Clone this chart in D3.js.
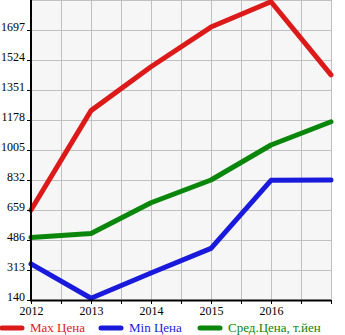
<!DOCTYPE html>
<html>
<head>
<meta charset="utf-8">
<script src="https://cdn.jsdelivr.net/npm/d3@7"></script>
<style>
  html, body { margin: 0; padding: 0; background: #fff; }
  svg { display: block; }
  text { font-family: "Liberation Serif", "Times New Roman", serif; }
</style>
</head>
<body>
<svg id="chart" width="345" height="335"></svg>
<script>
// Price history by year (thousand yen)
const years = [2012, 2013, 2014, 2015, 2016, 2017];
const maxPrice = [659, 1232, 1485, 1714, 1860, 1438];
const minPrice = [348, 150, 296, 438, 830, 832];
const avgPrice = [501, 524, 701, 832, 1034, 1168];
const yTicks = [140, 313, 486, 659, 832, 1005, 1178, 1351, 1524, 1697];
const xLabels = [2012, 2013, 2014, 2015, 2016];
const seriesNames = ["Max Цена", "Min Цена", "Сред.Цена, т.йен"];
const seriesColors = ["#dd1a1a", "#1a1add", "#0a860a"];

const svg = d3.select("#chart");
const plotLeft = 31, plotRight = 331, plotTop = 0, plotBottom = 300;

const x = d3.scaleLinear().domain([2012, 2017]).range([plotLeft, plotRight]);
const y = d3.scaleLinear().domain([140, 1870]).range([plotBottom, plotTop]);

// plot background
svg.append("rect")
  .attr("x", plotLeft).attr("y", plotTop)
  .attr("width", plotRight - plotLeft).attr("height", plotBottom - plotTop)
  .attr("fill", "#f6f6f6");

// grid
const halfYears = d3.range(2012, 2017.01, 0.5);
svg.append("g").selectAll("line").data(halfYears).join("line")
  .attr("x1", d => Math.round(x(d)) + 0.5).attr("x2", d => Math.round(x(d)) + 0.5)
  .attr("y1", plotTop).attr("y2", plotBottom)
  .attr("stroke", "#c0c0c0").attr("stroke-width", 1);
svg.append("g").selectAll("line").data(yTicks.concat([1870])).join("line")
  .attr("x1", plotLeft).attr("x2", plotRight)
  .attr("y1", d => Math.round(y(d)) + 0.5).attr("y2", d => Math.round(y(d)) + 0.5)
  .attr("stroke", "#c0c0c0").attr("stroke-width", 1);

// series lines
const line = d3.line().x((d, i) => x(years[i])).y(d => y(d));
[maxPrice, minPrice, avgPrice].forEach((vals, k) => {
  svg.append("path")
    .attr("d", line(vals))
    .attr("fill", "none")
    .attr("stroke", seriesColors[k])
    .attr("stroke-width", 5)
    .attr("stroke-linejoin", "round")
    .attr("stroke-linecap", "round");
});

// y axis
const yAxis = d3.axisLeft(y).tickValues(yTicks).tickFormat(d3.format("d"))
  .tickSize(4).tickSizeOuter(0);
const gy = svg.append("g").attr("transform", `translate(${plotLeft},0)`).call(yAxis);
gy.select(".domain").remove();
gy.selectAll(".tick line").attr("stroke", "#000");
gy.selectAll(".tick text")
  .attr("font-family", "Liberation Serif, serif").attr("font-size", 12).attr("fill", "#000")
  .attr("x", -6).attr("dy", "0");

// x axis
const xAxis = d3.axisBottom(x).tickValues(halfYears).tickSize(4).tickSizeOuter(0)
  .tickFormat(d => xLabels.includes(d) ? String(d) : "");
const gx = svg.append("g").attr("transform", `translate(0,${plotBottom})`).call(xAxis);
gx.select(".domain").remove();
gx.selectAll(".tick line").attr("stroke", "#000");
gx.selectAll(".tick text")
  .attr("font-family", "Liberation Serif, serif").attr("font-size", 12).attr("fill", "#000")
  .attr("y", 6);

// axis lines
svg.append("line").attr("x1", plotLeft).attr("x2", plotLeft).attr("y1", plotTop).attr("y2", plotBottom + 1)
  .attr("stroke", "#000").attr("stroke-width", 2);
svg.append("line").attr("x1", plotLeft - 1).attr("x2", plotRight).attr("y1", plotBottom + 0.5).attr("y2", plotBottom + 0.5)
  .attr("stroke", "#000").attr("stroke-width", 2);

// legend
const legendX = [2, 101, 200];
const lg = svg.append("g");
seriesNames.forEach((name, k) => {
  lg.append("line")
    .attr("x1", legendX[k]).attr("x2", legendX[k] + 20)
    .attr("y1", 328).attr("y2", 328)
    .attr("stroke", seriesColors[k]).attr("stroke-width", 5)
    .attr("stroke-linecap", "round");
  lg.append("text")
    .attr("x", legendX[k] + 28).attr("y", 332)
    .attr("font-size", 13).attr("fill", seriesColors[k])
    .text(name);
});
</script>
</body>
</html>
